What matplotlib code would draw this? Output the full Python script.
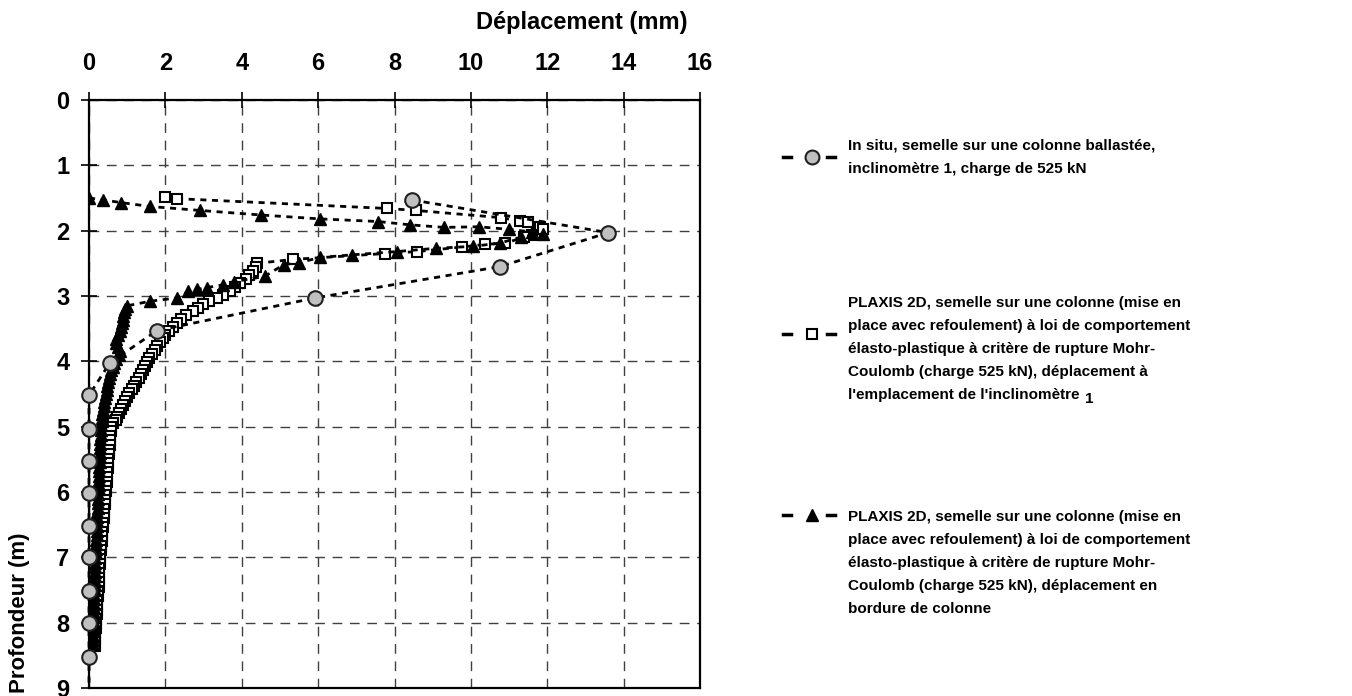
import matplotlib
matplotlib.use("Agg")
import matplotlib.pyplot as plt
from matplotlib.lines import Line2D

plt.rcParams['font.family'] = ['Liberation Sans', 'DejaVu Sans']
plt.rcParams['font.weight'] = 'bold'

# In situ, inclinometre 1 (displacement mm, depth m)
insitu_x = [8.46, 13.6, 10.76, 5.92, 1.78, 0.55, 0.0, 0.0, 0.0, 0.0, 0.0, 0.0, 0.0, 0.0, 0.0, 0.0]
insitu_d = [1.53, 2.03, 2.55, 3.03, 3.53, 4.02, 4.52, 5.03, 5.53, 6.02, 6.52, 7.0, 7.51, 8.01, 8.52, 9.0]

# PLAXIS 2D, emplacement inclinometre
incl_x = [2.0, 2.3, 7.8, 8.55, 10.78, 11.28, 11.5, 11.8, 11.9, 11.6, 11.4, 10.9, 10.37, 9.76,
          8.6, 7.75, 5.34, 4.4,
          4.38, 4.3, 4.2, 4.1, 3.95, 3.82, 3.7, 3.5, 3.35, 3.15, 2.98, 2.85, 2.72, 2.55, 2.42,
          2.3, 2.2, 2.1, 2.0, 1.93, 1.86, 1.78, 1.72, 1.65, 1.58, 1.52, 1.47, 1.42, 1.37, 1.3,
          1.24, 1.18, 1.12, 1.06, 1.0, 0.94, 0.88, 0.83, 0.78, 0.74, 0.7, 0.62, 0.58,
          0.57, 0.56, 0.55, 0.54, 0.53, 0.52, 0.51, 0.5, 0.49, 0.48, 0.47, 0.46, 0.45, 0.44,
          0.43, 0.42, 0.41, 0.4, 0.39, 0.38, 0.37, 0.36, 0.35, 0.34, 0.33, 0.32, 0.31, 0.3,
          0.29, 0.28, 0.27, 0.27, 0.26, 0.25, 0.25, 0.24, 0.23, 0.22, 0.21, 0.21, 0.2, 0.19,
          0.19, 0.18, 0.17, 0.17, 0.16, 0.15]
incl_d = [1.49, 1.51, 1.66, 1.69, 1.8, 1.85, 1.86, 1.94, 1.98, 2.06, 2.1, 2.19, 2.21, 2.25,
          2.32, 2.35, 2.44, 2.5,
          2.56, 2.62, 2.68, 2.74, 2.8, 2.86, 2.92, 2.98, 3.03, 3.08, 3.13, 3.18, 3.23, 3.29, 3.35,
          3.41, 3.47, 3.53, 3.59, 3.65, 3.71, 3.77, 3.83, 3.89, 3.95, 4.01, 4.07, 4.13, 4.19, 4.25,
          4.31, 4.37, 4.43, 4.49, 4.55, 4.61, 4.67, 4.73, 4.79, 4.85, 4.9, 4.95, 5.0,
          5.07, 5.14, 5.21, 5.28, 5.35, 5.42, 5.49, 5.56, 5.63, 5.7, 5.77, 5.84, 5.91, 5.98,
          6.05, 6.12, 6.19, 6.26, 6.33, 6.4, 6.47, 6.54, 6.61, 6.68, 6.75, 6.82, 6.89, 6.96,
          7.03, 7.1, 7.17, 7.24, 7.31, 7.38, 7.45, 7.52, 7.59, 7.66, 7.73, 7.8, 7.87, 7.94,
          8.01, 8.08, 8.15, 8.22, 8.29, 8.36]

# PLAXIS 2D, bordure de colonne
bord_x = [0.0, 0.37, 0.84, 1.6, 2.9, 4.5, 6.05, 7.57, 8.4, 9.3, 10.2, 11.0, 11.6, 11.9,
          11.3, 10.76, 10.05, 9.08, 8.06, 6.9, 6.05, 5.5, 5.1, 4.6, 3.8, 3.5, 3.1, 2.83,
          2.6, 2.3, 1.6, 1.0,
          0.95, 0.92, 0.9, 0.88, 0.86, 0.84, 0.8, 0.75, 0.7, 0.72, 0.76, 0.8, 0.78, 0.72,
          0.66, 0.62, 0.58, 0.56, 0.53, 0.5, 0.48, 0.46, 0.44, 0.42, 0.4, 0.38, 0.36, 0.35,
          0.34, 0.33, 0.32,
          0.31, 0.31, 0.3, 0.3, 0.29, 0.29, 0.28, 0.28, 0.27, 0.27, 0.26, 0.26, 0.25, 0.25,
          0.24, 0.24, 0.23, 0.23, 0.22, 0.22, 0.21, 0.21, 0.2, 0.2, 0.19, 0.19, 0.18, 0.18,
          0.17, 0.17, 0.16, 0.16, 0.16, 0.15, 0.15, 0.15, 0.14, 0.14, 0.14, 0.13, 0.13, 0.13,
          0.12, 0.12, 0.12, 0.11, 0.11, 0.11]
bord_d = [1.5, 1.53, 1.57, 1.63, 1.69, 1.76, 1.82, 1.86, 1.91, 1.95, 1.94, 1.98, 2.02, 2.05,
          2.1, 2.19, 2.24, 2.27, 2.32, 2.37, 2.41, 2.49, 2.52, 2.7, 2.78, 2.83, 2.87, 2.9,
          2.93, 3.03, 3.08, 3.15,
          3.2, 3.25, 3.3, 3.36, 3.42, 3.48, 3.54, 3.6, 3.66, 3.72, 3.78, 3.84, 3.9, 3.96,
          4.02, 4.08, 4.14, 4.2, 4.26, 4.32, 4.38, 4.44, 4.5, 4.56, 4.62, 4.68, 4.74, 4.8,
          4.86, 4.92, 4.98,
          5.05, 5.12, 5.19, 5.26, 5.33, 5.4, 5.47, 5.54, 5.61, 5.68, 5.75, 5.82, 5.89, 5.96,
          6.03, 6.1, 6.17, 6.24, 6.31, 6.38, 6.45, 6.52, 6.59, 6.66, 6.73, 6.8, 6.87, 6.94,
          7.01, 7.08, 7.15, 7.22, 7.29, 7.36, 7.43, 7.5, 7.57, 7.64, 7.71, 7.78, 7.85, 7.92,
          7.99, 8.06, 8.13, 8.2, 8.27, 8.32]

xticks = [0, 2, 4, 6, 8, 10, 12, 14, 16]
yticks = [0, 1, 2, 3, 4, 5, 6, 7, 8, 9]

legend_texts = [
    ["In situ, semelle sur une colonne ballastée,",
     "inclinomètre 1, charge de 525 kN"],
    ["PLAXIS 2D, semelle sur une colonne (mise en",
     "place avec refoulement) à loi de comportement",
     "élasto-plastique à critère de rupture Mohr-",
     "Coulomb (charge 525 kN), déplacement à",
     "l'emplacement de l'inclinomètre"],
    ["PLAXIS 2D, semelle sur une colonne (mise en",
     "place avec refoulement) à loi de comportement",
     "élasto-plastique à critère de rupture Mohr-",
     "Coulomb (charge 525 kN), déplacement en",
     "bordure de colonne"],
]

W, H = 1352, 696
fig = plt.figure(figsize=(W / 100, H / 100), dpi=100)
ax = fig.add_axes([89 / W, 1 - 688 / H, (700 - 89) / W, (688 - 100) / H])

dash = (0, (2.2, 2.0))
ax.plot(incl_x, incl_d, linestyle=dash, color='black', lw=2.0, marker='s', ms=7.5,
        mfc='white', mec='black', mew=1.5, zorder=3)
ax.plot(bord_x, bord_d, linestyle=dash, color='black', lw=2.0, marker='^', ms=8,
        mfc='black', mec='black', zorder=4)
ax.plot(insitu_x, insitu_d, linestyle=dash, color='black', lw=2.0, marker='o', ms=10.5,
        mfc='#c0c0c0', mec='#202020', mew=1.5, markevery=list(range(len(insitu_x) - 1)),
        zorder=5, clip_on=False)

ax.set_xlim(0, 16)
ax.set_ylim(9, 0)
ax.set_xticks(xticks)
ax.set_yticks(yticks)
ax.xaxis.tick_top()
ax.tick_params(direction='inout', length=12, width=1.2, labelsize=17)
ax.tick_params(axis='x', pad=12)
ax.tick_params(axis='y', pad=8)
ax.grid(True, linestyle=(0, (7, 5.5)), color='#404040', linewidth=1.0)
for s in ax.spines.values():
    s.set_linewidth(1.6)

fig.text(582 / W, 1 - 22 / H, "Déplacement (mm)", ha='center', va='center', fontsize=17)
fig.text(20 / W, 1 - 613 / H, "Profondeur (m)", ha='center', va='center', rotation=90, fontsize=16)

# legend drawn by hand
markers = [dict(marker='o', ms=10, mfc='#c0c0c0', mec='#202020', mew=1.5),
           dict(marker='s', ms=7, mfc='white', mec='black', mew=1.5),
           dict(marker='^', ms=8, mfc='black', mec='black')]
marker_y = [157, 334, 515]
text_y0 = [146, 303, 517]
for mk, my, ty, lines in zip(markers, marker_y, text_y0, legend_texts):
    yf = 1 - my / H
    for x0, x1 in [(783, 791), (827, 835)]:
        fig.add_artist(Line2D([x0 / W, x1 / W], [yf, yf], color='black', lw=2.5))
    fig.add_artist(Line2D([812 / W], [yf], linestyle='none', **mk))
    for i, line in enumerate(lines):
        t = fig.text(848 / W, 1 - (ty + 23 * i) / H, line, ha='left', va='center', fontsize=11)
    if lines[-1].endswith("inclinomètre"):
        ax.annotate("1", xy=(1, 0.5), xycoords=t, xytext=(4, -3), textcoords='offset points',
                    ha='left', va='center', fontsize=11, fontweight='bold')

fig.savefig("out.png", dpi=100)
